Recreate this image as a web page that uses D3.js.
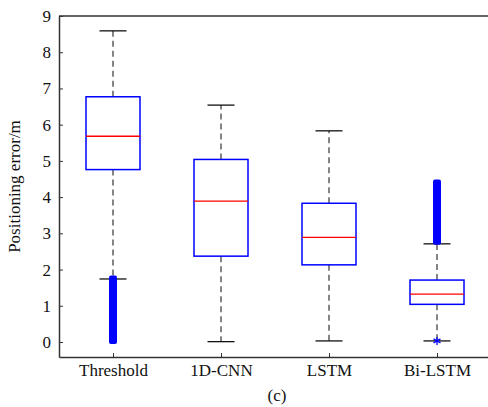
<!DOCTYPE html>
<html>
<head>
<meta charset="utf-8">
<script src="https://cdn.jsdelivr.net/npm/d3@7"></script>
<style>
  html, body { margin: 0; padding: 0; background: #fff; overflow: hidden; }
  text { font-family: "Liberation Serif", "Times New Roman", serif; fill: #111; }
</style>
</head>
<body>
<div id="mount"></div>
<script>
'use strict';

// values
const categories = ['Threshold', '1D-CNN', 'LSTM', 'Bi-LSTM'];
const whiskerLow  = [1.74, 0.01, 0.03, 0.03];
const q1          = [4.76, 2.37, 2.13, 1.04];
const median      = [5.68, 3.89, 2.89, 1.32];
const q3          = [6.77, 5.04, 3.83, 1.71];
const whiskerHigh = [8.59, 6.54, 5.83, 2.71];
// dense outlier bands [low, high], and single outliers
const outlierBands = [[0.0, 1.78], null, null, [2.74, 4.43]];
const outlierPoints = [[], [], [], [0.03]];
const yTicks = [0, 1, 2, 3, 4, 5, 6, 7, 8, 9];

const margin = { top: 16, left: 59, bottom: 50, right: -3 },
      width = 488 - margin.left - margin.right,
      height = 407 - margin.top - margin.bottom;

const svg = d3.select('#mount').append('svg')
    .attr('width', 488)
    .attr('height', 407);

const graph = svg.append('g')
    .attr('transform', `translate(${margin.left}, ${margin.top})`);

const x = d3.scaleLinear().domain([0.5, 4.5]).range([0, width]);
const y = d3.scaleLinear().domain([-0.414, 9]).range([height, 0]);

const boxes = categories.map((c, i) => ({
  name: c, pos: i + 1,
  lo: whiskerLow[i], q1: q1[i], med: median[i], q3: q3[i], hi: whiskerHigh[i],
  band: outlierBands[i], pts: outlierPoints[i]
}));

// axes (MATLAB style, ticks inward)
const yAxis = d3.axisLeft(y).tickValues(yTicks).tickSizeInner(-4).tickSizeOuter(0).tickPadding(8);
const xAxis = d3.axisBottom(x).tickValues([1, 2, 3, 4])
    .tickFormat(d => categories[d - 1]).tickSizeInner(-4).tickSizeOuter(0).tickPadding(7);

const gy = graph.append('g').call(yAxis);
const gx = graph.append('g').attr('transform', `translate(0, ${height})`).call(xAxis);
[gy, gx].forEach(g => {
  g.attr('font-family', null).attr('font-size', null);
  g.select('.domain').attr('stroke', '#333').attr('stroke-width', 1.5);
  g.selectAll('.tick line').attr('stroke', '#333');
  g.selectAll('.tick text').style('font-size', '17px').attr('fill', '#111')
    .style('font-family', '"Liberation Serif", serif');
});

// top frame line
graph.append('line')
    .attr('x1', 0).attr('x2', width)
    .attr('y1', 0).attr('y2', 0)
    .attr('stroke', '#333').attr('stroke-width', 1.5);

const half = (x(1.25) - x(1));
const cap = (x(1.125) - x(1));

const b = graph.selectAll('.box').data(boxes).enter().append('g').attr('class', 'box');

// whiskers (dashed)
b.append('line')
    .attr('x1', d => x(d.pos)).attr('x2', d => x(d.pos))
    .attr('y1', d => y(d.q3)).attr('y2', d => y(d.hi))
    .attr('stroke', '#444').attr('stroke-width', 1.3).attr('stroke-dasharray', '6,4');
b.append('line')
    .attr('x1', d => x(d.pos)).attr('x2', d => x(d.pos))
    .attr('y1', d => y(d.q1)).attr('y2', d => y(d.lo))
    .attr('stroke', '#444').attr('stroke-width', 1.3).attr('stroke-dasharray', '6,4');

// caps
['lo', 'hi'].forEach(k => {
  b.append('line')
      .attr('x1', d => x(d.pos) - cap).attr('x2', d => x(d.pos) + cap)
      .attr('y1', d => y(d[k])).attr('y2', d => y(d[k]))
      .attr('stroke', '#111').attr('stroke-width', 1.3);
});

// box
b.append('rect')
    .attr('x', d => x(d.pos) - half)
    .attr('width', 2 * half)
    .attr('y', d => y(d.q3))
    .attr('height', d => y(d.q1) - y(d.q3))
    .attr('fill', 'none').attr('stroke', '#0000ff').attr('stroke-width', 1.5);

// median
b.append('line')
    .attr('x1', d => x(d.pos) - half).attr('x2', d => x(d.pos) + half)
    .attr('y1', d => y(d.med)).attr('y2', d => y(d.med))
    .attr('stroke', '#ff0000').attr('stroke-width', 1.3);

// outlier bands (thousands of overlapping '+' markers)
b.filter(d => d.band).append('rect')
    .attr('x', d => x(d.pos) - 4)
    .attr('width', 8)
    .attr('y', d => y(d.band[1]) - 2)
    .attr('height', d => y(d.band[0]) - y(d.band[1]) + 4)
    .attr('rx', 2)
    .attr('fill', '#0000ff');

// single outliers drawn as '*'
b.each(function(d) {
  d3.select(this).selectAll('.pt').data(d.pts).enter().append('g')
      .attr('transform', v => `translate(${x(d.pos)}, ${y(v)})`)
    .each(function() {
      const g = d3.select(this);
      [0, 60, 120].forEach(a => g.append('line')
          .attr('x1', -4).attr('x2', 4).attr('y1', 0).attr('y2', 0)
          .attr('transform', `rotate(${a + 90})`)
          .attr('stroke', '#0000ff').attr('stroke-width', 1.3));
    });
});

// y label
svg.append('text')
    .attr('transform', `translate(20, ${margin.top + height / 2}) rotate(-90)`)
    .attr('text-anchor', 'middle')
    .style('font-size', '17px')
    .text('Positioning error/m');

// caption
svg.append('text')
    .attr('x', 277).attr('y', 401)
    .attr('text-anchor', 'middle')
    .style('font-size', '17px')
    .text('(c)');
</script>
</body>
</html>
